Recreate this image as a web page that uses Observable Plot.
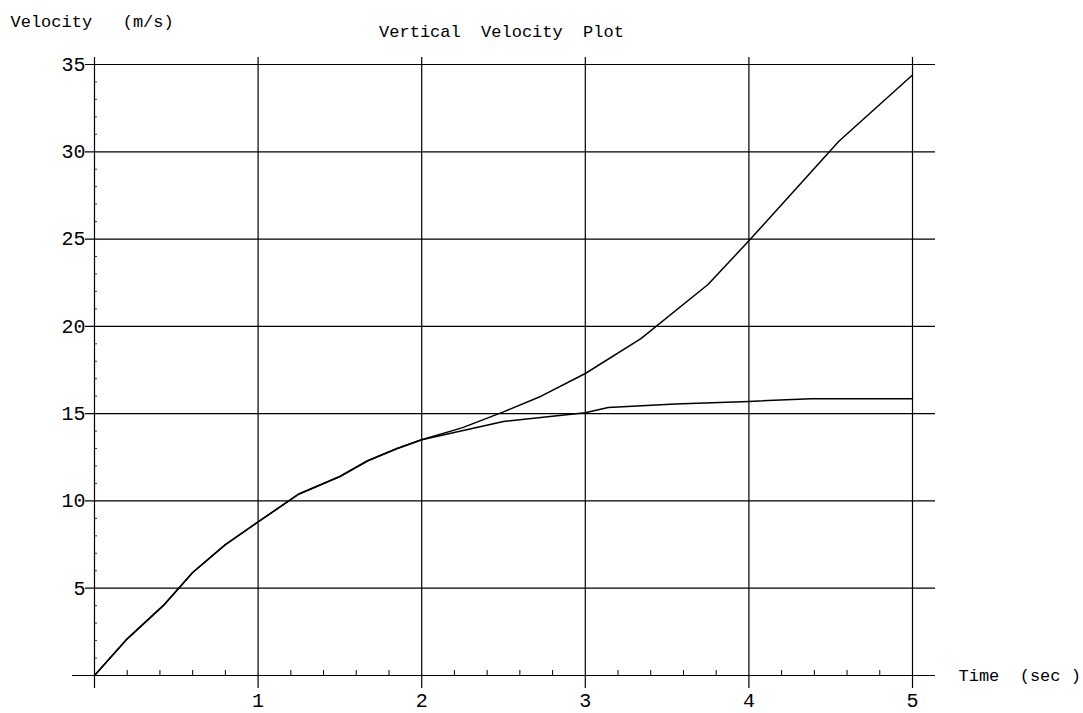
<!DOCTYPE html>
<html>
<head>
<meta charset="utf-8">
<script src="https://cdn.jsdelivr.net/npm/d3@7"></script>
<script src="https://cdn.jsdelivr.net/npm/@observablehq/plot@0.6"></script>
<style>
  html, body { margin: 0; padding: 0; background: #fff; }
  svg { display: block; }
</style>
</head>
<body>
<div id="chart"></div>
<script>
// Upper curve (diverging, accelerating)
const timeA = [0, 0.2, 0.42, 0.6, 0.8, 1.0, 1.25, 1.5, 1.67, 1.85, 2.0, 2.25, 2.5, 2.73, 3.0, 3.34, 3.75, 4.0, 4.55, 5.0];
const velA  = [0, 2.1, 4.0, 5.9, 7.5, 8.8, 10.4, 11.4, 12.3, 13.0, 13.5, 14.2, 15.1, 16.0, 17.3, 19.3, 22.4, 24.9, 30.6, 34.4];
// Lower curve (levelling off)
const timeB = [0, 0.2, 0.42, 0.6, 0.8, 1.0, 1.25, 1.5, 1.67, 1.85, 2.0, 2.5, 3.0, 3.14, 3.55, 4.0, 4.38, 5.0];
const velB  = [0, 2.1, 4.0, 5.9, 7.5, 8.8, 10.4, 11.4, 12.3, 13.0, 13.5, 14.55, 15.05, 15.35, 15.55, 15.7, 15.85, 15.85];

const xTicks = [1, 2, 3, 4, 5];
const yTicks = [5, 10, 15, 20, 25, 30, 35];
const xMinor = d3.range(1, 25).map(i => i / 5).filter(v => !Number.isInteger(v));
const yMinor = d3.range(1, 35).filter(v => v % 5 !== 0);

const titleText = "Vertical  Velocity  Plot";
const yLabel = "Velocity   (m/s)";
const xLabel = "Time  (sec )";

const seriesA = timeA.map((t, i) => ({t, v: velA[i]}));
const seriesB = timeB.map((t, i) => ({t, v: velB[i]}));

const font = "'Liberation Mono', 'Courier New', monospace";

const chart = Plot.plot({
  width: 1083,
  height: 713,
  marginLeft: 94,
  marginRight: 171,
  marginTop: 64,
  marginBottom: 38,
  x: {domain: [0, 5], axis: null},
  y: {domain: [0, 35], axis: null},
  style: {fontFamily: font, fontSize: "18px", color: "#000", background: "#fff"},
  marks: [
    // horizontal grid lines
    Plot.ruleY(yTicks, {stroke: "#000", strokeWidth: 1.2, insetLeft: -9, insetRight: -23}),
    // x axis line
    Plot.ruleY([0], {stroke: "#000", strokeWidth: 1.2, insetLeft: -22, insetRight: -23}),
    // vertical grid lines + y axis line
    Plot.ruleX([0, ...xTicks], {stroke: "#000", strokeWidth: 1.2, insetTop: -7, insetBottom: -13}),
    // minor ticks
    Plot.ruleX(xMinor, {x: d => d, y1: 0, y2: 0, insetTop: -5, stroke: "#000", strokeWidth: 1}),
    Plot.ruleY(yMinor, {y: d => d, x1: 0, x2: 0, insetRight: -3, stroke: "#000", strokeWidth: 0.8}),
    // curves
    Plot.line(seriesA, {x: "t", y: "v", stroke: "#000", strokeWidth: 1.5}),
    Plot.line(seriesB, {x: "t", y: "v", stroke: "#000", strokeWidth: 1.5}),
    // tick labels
    Plot.text(xTicks, {x: d => d, y: 0, dy: 25, text: d => String(d), fill: "#000", fontSize: 20}),
    Plot.text(yTicks, {y: d => d, x: 0, dx: -9, textAnchor: "end", text: d => String(d), fill: "#000", fontSize: 20}),
    // titles
    Plot.text([yLabel], {frameAnchor: "top-left", dx: -84, dy: -50, textAnchor: "start", text: d => d, fill: "#000", fontSize: 17}),
    Plot.text([titleText], {frameAnchor: "top", dx: -2, dy: -40, text: d => d, fill: "#000", fontSize: 17}),
    Plot.text([xLabel], {frameAnchor: "bottom-right", dx: 46, dy: 5, textAnchor: "start", text: d => d, fill: "#000", fontSize: 17})
  ]
});
chart.querySelectorAll("text").forEach(t => t.setAttribute("xml:space", "preserve"));
chart.style.whiteSpace = "pre";
document.getElementById("chart").appendChild(chart);
</script>
</body>
</html>
